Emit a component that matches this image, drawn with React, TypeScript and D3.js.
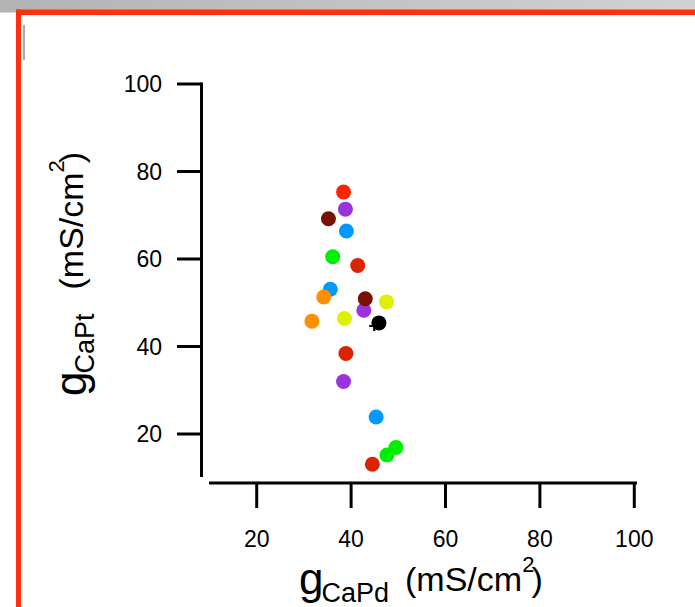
import React from "react";
import * as d3 from "d3";

// g_CaPd (x) vs g_CaPt (y), mS/cm^2
const xValues = [38.4, 38.8, 35.2, 39.0, 36.1, 41.4, 35.6, 34.2, 42.7, 43.0, 47.5, 31.7, 38.6, 45.9, 38.9, 38.4, 45.3, 49.5, 47.6, 44.5];
const yValues = [75.3, 71.4, 69.2, 66.4, 60.5, 58.5, 53.1, 51.3, 48.3, 50.9, 50.2, 45.8, 46.4, 45.4, 38.4, 32.0, 23.9, 16.9, 15.2, 13.1];
const colors = [
  "#ff2400", "#9933dd", "#771100", "#0099ff", "#00ee00", "#dd2200", "#0099ff", "#ff9100", "#9933dd", "#771100",
  "#ddf000", "#ff9100", "#ddf000", "#000000", "#dd2200", "#9933dd", "#0099ff", "#00ee00", "#00ee00", "#dd2200",
];
const crossPoint = [44.9, 44.7];
const xTicks = [20, 40, 60, 80, 100];
const yTicks = [20, 40, 60, 80, 100];

const W = 695;
const H = 607;
const font = "Arial, 'Liberation Sans', sans-serif";

// big "g", subscript, then units with superscript 2
const AxisTitle = ({ sub, transform, gap }: { sub: string; transform: string; gap: number }) => (
  <text transform={transform} fontFamily={font} fontSize={44}>
    g<tspan fontSize={27} dx={-2} dy={8}>{sub}</tspan>
    <tspan fontSize={34} dx={gap} dy={-11}>(mS/cm</tspan>
    <tspan fontSize={22} dy={-19}>2</tspan>
    <tspan fontSize={34} dx={-3} dy={19}>)</tspan>
  </text>
);

const App = () => {
  const x = d3.scaleLinear().domain([20, 100]).range([256.7, 634.3]);
  const y = d3.scaleLinear().domain([100, 20]).range([84, 434]);

  const yAxisX = 201.5;
  const xAxisY = 483;

  return (
    <div style={{ position: "fixed", left: 0, top: 0, background: "#fff" }}>
      <svg width={W} height={H} style={{ display: "block" }}>
        <defs>
          <linearGradient id="topbar" x1="0" x2="1" y1="0" y2="0">
            <stop offset="0" stopColor="#b3b3b6" />
            <stop offset="1" stopColor="#d2d2d2" />
          </linearGradient>
        </defs>
        <rect x={0} y={0} width={W} height={H} fill="#fff" />
        <rect x={0} y={0} width={W} height={12.5} fill="url(#topbar)" />
        {/* red frame */}
        <line x1={16} x2={W} y1={12.3} y2={12.3} stroke="#ff3010" strokeWidth={5.5} />
        <line x1={18.5} x2={18.5} y1={9.5} y2={H} stroke="#ff3010" strokeWidth={5} />
        <line x1={24} x2={24} y1={25} y2={60} stroke="#555" strokeWidth={1} />

        {/* axes */}
        <line x1={yAxisX} x2={yAxisX} y1={y(100) - 1.5} y2={477} stroke="#000" strokeWidth={3} />
        {yTicks.map(t => (
          <g key={"y" + t}>
            <line x1={177} x2={yAxisX} y1={y(t)} y2={y(t)} stroke="#000" strokeWidth={3} />
            <text x={162} y={y(t)} dy="0.36em" textAnchor="end" fontFamily={font} fontSize={23}>{t}</text>
          </g>
        ))}
        <line x1={209} x2={637} y1={xAxisY} y2={xAxisY} stroke="#000" strokeWidth={3} />
        {xTicks.map(t => (
          <g key={"x" + t}>
            <line x1={x(t)} x2={x(t)} y1={xAxisY} y2={508} stroke="#000" strokeWidth={3} />
            <text x={x(t)} y={546.5} textAnchor="middle" fontFamily={font} fontSize={23}>{t}</text>
          </g>
        ))}

        {/* axis titles */}
        <AxisTitle sub="CaPd" gap={16} transform="translate(299,594)" />
        <AxisTitle sub="CaPt" gap={24} transform="translate(86,396) rotate(-90)" />

        {/* points */}
        {xValues.map((v, i) => (
          <circle key={i} cx={x(v)} cy={y(yValues[i])} r={7.5} fill={colors[i]} />
        ))}
        <path
          d={`M${x(crossPoint[0]) - 5},${y(crossPoint[1])}H${x(crossPoint[0]) + 5}M${x(crossPoint[0])},${y(crossPoint[1]) - 5}V${y(crossPoint[1]) + 5}`}
          stroke="#000"
          strokeWidth={2}
          fill="none"
        />
      </svg>
    </div>
  );
};

export default App;
